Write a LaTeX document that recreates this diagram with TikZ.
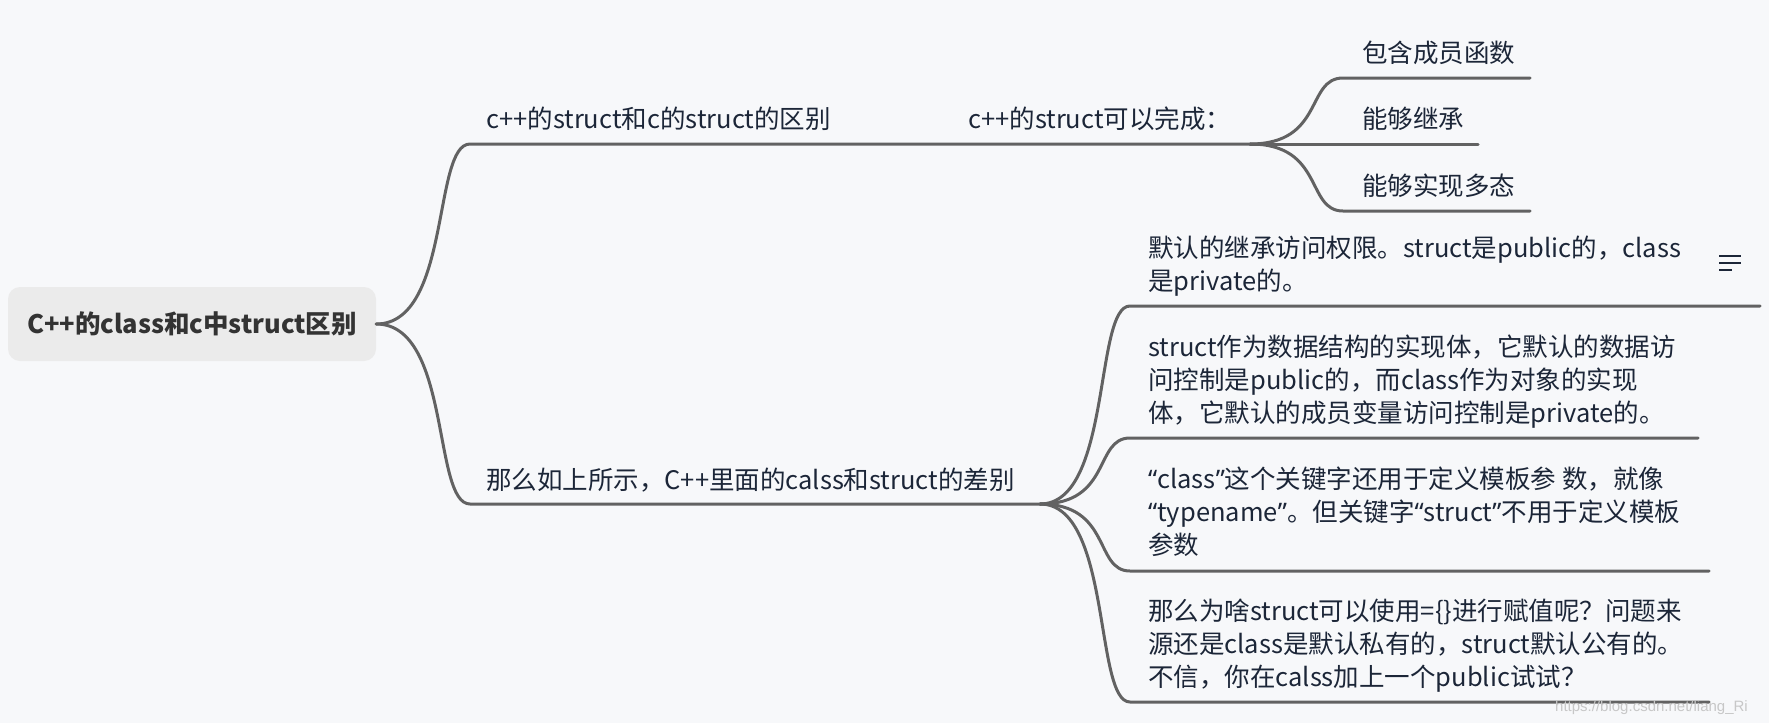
\documentclass[tikz,border=0pt]{standalone}
\usepackage{fontspec}
\setmainfont{Noto Sans CJK SC}
\newfontfamily\wmfont{Liberation Sans}
\newfontfamily\quotefont{Noto Sans}
\newcommand\openq{{\quotefont “}}
\newcommand\closeq{{\quotefont ”}}
\usepackage{xcolor}
\usetikzlibrary{calc}

\definecolor{bgcol}{HTML}{F7F8FA}
\definecolor{rootcol}{HTML}{EBEBEB}
\definecolor{linecol}{HTML}{626262}
\definecolor{textcol}{HTML}{1C2638}
\definecolor{roottext}{HTML}{333333}

\tikzset{
  branch/.style={draw=linecol, line width=3pt, line cap=round},
  curveto/.style={to path={.. controls ($(\tikztostart)!0.8!(\tikztotarget|-\tikztostart)$) and ($(\tikztostart|-\tikztotarget)!0.6!(\tikztotarget)$) .. (\tikztotarget)}},
  rootbox/.style={fill=rootcol, rounded corners=12pt, minimum width=368pt, minimum height=74pt, inner sep=0pt, text=roottext, font=\bfseries\fontsize{25.5}{30}\selectfont},
  topic/.style={inner sep=0pt, anchor=base west, text=textcol, font=\fontsize{25.5}{33}\selectfont},
  detail/.style={topic, align=left},
}

\begin{document}
\begin{tikzpicture}[x=1pt, y=-1pt]
  \fill[bgcol] (0,0) rectangle (1769,723);
  \useasboundingbox (0,0) rectangle (1769,723);

  \node[rootbox] (root) at (192,324) {C++的class和c中struct区别};

  % first branch
  \coordinate (c1s) at (470,144);
  \coordinate (c1e) at (858,144);
  \coordinate (c11s) at (952,144);
  \coordinate (c11e) at (1250,144);
  \node[topic] (c1) at (486,128) {c++的struct和c的struct的区别};
  \node[topic] (c11) at (968,128) {c++的struct可以完成：};
  \draw[branch] (root.east) to[curveto] (c1s) -- (c1e) -- (c11s) -- (c11e);

  \foreach \i/\y/\len/\txt in {1/78/1530/包含成员函数, 2/144/1478/能够继承, 3/211/1530/能够实现多态}{
    \coordinate (l\i s) at (1343,\y);
    \coordinate (l\i e) at (\len,\y);
    \node[topic] (leaf\i) at (1362,\y-15.5) {\txt};
    \draw[branch] (c11e) to[curveto] (l\i s) -- (l\i e);
  }

  % second branch
  \coordinate (c2s) at (470,504);
  \coordinate (c2e) at (1040,504);
  \node[topic] (c2) at (486,489) {那么如上所示，C++里面的calss和struct的差别};
  \draw[branch] (root.east) to[curveto] (c2s) -- (c2e);

  \coordinate (d1s) at (1130,306);  \coordinate (d1e) at (1760,306);
  \coordinate (d2s) at (1130,438);  \coordinate (d2e) at (1698,438);
  \coordinate (d3s) at (1130,571);  \coordinate (d3e) at (1709,571);
  \coordinate (d4s) at (1130,702);  \coordinate (d4e) at (1709,702);
  \foreach \i in {1,...,4}
    \draw[branch] (c2e) to[curveto] (d\i s) -- (d\i e);

  % base of a detail node = baseline of its last line
  \node[detail] (d1) at (1148,290) {默认的继承访问权限。struct是public的，class\\是private的。};
  \node[detail] (d2) at (1148,422) {struct作为数据结构的实现体，它默认的数据访\\问控制是public的，而class作为对象的实现\\体，它默认的成员变量访问控制是private的。};
  \node[detail] (d3) at (1148,554) {\openq class\closeq 这个关键字还用于定义模板参 数，就像\\\openq typename\closeq 。但关键字\openq struct\closeq 不用于定义模板\\参数};
  \node[detail] (d4) at (1148,686) {那么为啥struct可以使用=\{\}进行赋值呢？问题来\\源还是class是默认私有的，struct默认公有的。\\不信，你在calss加上一个public试试？};

  % notes icon
  \coordinate (ic) at (1719,256);
  \draw[textcol, line width=1.6pt] (ic) -- +(22,0) (1719,263) -- +(22,0) (1719,270) -- +(13,0);

  \node[anchor=base east, inner sep=0pt, text=black!22, font=\wmfont\fontsize{15}{18}\selectfont] (wm) at (1748,711) {https://blog.csdn.net/liang\_Ri};
\end{tikzpicture}
\end{document}
